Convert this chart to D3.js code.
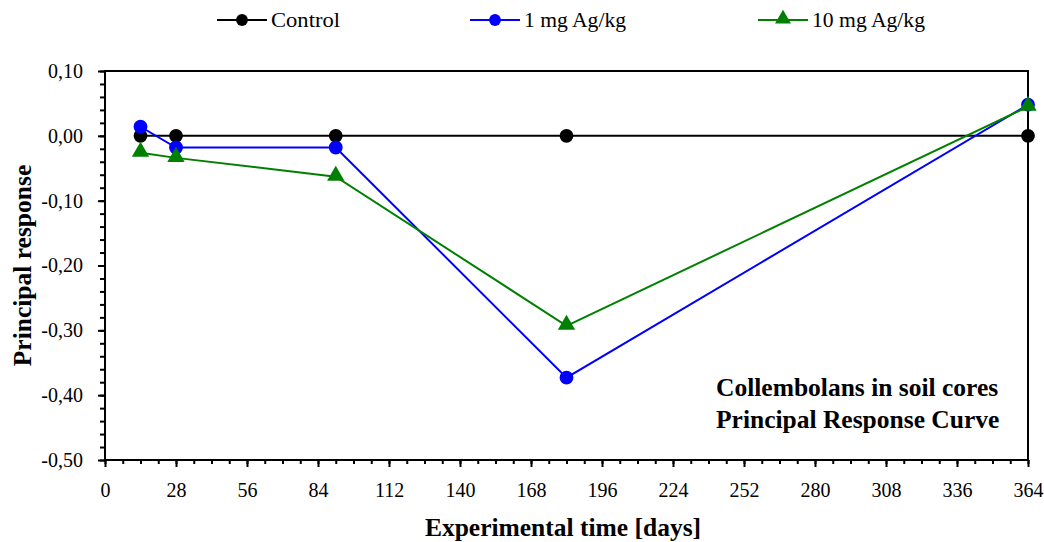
<!DOCTYPE html>
<html>
<head>
<meta charset="utf-8">
<script src="https://cdn.jsdelivr.net/npm/d3@7"></script>
<style>
  body { margin: 0; background: #fff; }
  svg text { font-family: "Liberation Serif", "Times New Roman", serif; fill: #000; }
</style>
</head>
<body>
<div></div>
<script>
const days = [14, 28, 91, 182, 364];
const control = [0, 0, 0, 0, 0];
const dose1 = [0.014, -0.018, -0.018, -0.373, 0.048];
const dose10 = [-0.026, -0.034, -0.063, -0.293, 0.045];
const xTicks = [0, 28, 56, 84, 112, 140, 168, 196, 224, 252, 280, 308, 336, 364];
const yTicks = [0.1, 0, -0.1, -0.2, -0.3, -0.4, -0.5];
const seriesNames = ['Control', '1 mg Ag/kg', '10 mg Ag/kg'];

const svgWidth = 1044, svgHeight = 542;
const plotLeft = 105, plotRight = 1028, plotTop = 71, plotBottom = 460;

const svg = d3.select('body').select('div')
  .append('svg')
  .attr('width', svgWidth)
  .attr('height', svgHeight);

const x = d3.scaleLinear().domain([0, 364]).range([plotLeft, plotRight]);
const y = d3.scaleLinear().domain([-0.5, 0.1]).range([plotBottom, plotTop]);

const fmt = d => d3.format('.2f')(d).replace('.', ',').replace('−', '-');

// minor ticks
svg.append('g')
  .attr('transform', `translate(0,${plotBottom})`)
  .call(d3.axisBottom(x).tickValues(d3.range(0, 365, 7)).tickSize(4).tickFormat(''))
  .call(g => g.select('.domain').remove())
  .selectAll('line').attr('stroke-width', 2);

svg.append('g')
  .attr('transform', `translate(${plotLeft},0)`)
  .call(d3.axisLeft(y).tickValues(d3.range(-0.5, 0.1001, 0.02)).tickSize(5).tickFormat(''))
  .call(g => g.select('.domain').remove())
  .selectAll('line').attr('stroke-width', 2);

// major axes
const xAxis = svg.append('g')
  .attr('transform', `translate(0,${plotBottom})`)
  .call(d3.axisBottom(x).tickValues(xTicks).tickSize(7).tickPadding(16));
xAxis.select('.domain').remove();
xAxis.selectAll('line').attr('stroke-width', 2);
xAxis.selectAll('text').style('font-size', '20px');

const yAxis = svg.append('g')
  .attr('transform', `translate(${plotLeft},0)`)
  .call(d3.axisLeft(y).tickValues(yTicks).tickSize(7).tickPadding(15).tickFormat(fmt));
yAxis.select('.domain').remove();
yAxis.selectAll('line').attr('stroke-width', 2);
yAxis.selectAll('text').style('font-size', '20px');

// frame
svg.append('rect')
  .attr('x', plotLeft).attr('y', plotTop)
  .attr('width', plotRight - plotLeft).attr('height', plotBottom - plotTop)
  .attr('fill', 'none').attr('stroke', '#000').attr('stroke-width', 2);

const series = [
  { name: seriesNames[0], values: control, color: '#000000', shape: 'circle' },
  { name: seriesNames[1], values: dose1, color: '#0000ff', shape: 'circle' },
  { name: seriesNames[2], values: dose10, color: '#008000', shape: 'triangle' }
];

const line = d3.line().x(d => x(d[0])).y(d => y(d[1]));
const circle = d3.symbol().type(d3.symbolCircle).size(150);
const tri = d3.symbol().type(d3.symbolTriangle).size(130);

series.forEach(s => {
  const pts = days.map((d, i) => [d, s.values[i]]);
  svg.append('path')
    .datum(pts)
    .attr('d', line)
    .attr('fill', 'none')
    .attr('stroke', s.color)
    .attr('stroke-width', 2);
  svg.selectAll(null)
    .data(pts)
    .enter()
    .append('path')
    .attr('d', s.shape === 'circle' ? circle : tri)
    .attr('transform', d => `translate(${x(d[0])},${y(d[1]) + (s.shape === 'circle' ? 0 : -1)})`)
    .attr('fill', s.color);
});

// legend
const legendX = [217, 470, 758];
series.forEach((s, i) => {
  const g = svg.append('g').attr('transform', `translate(${legendX[i]},20)`);
  g.append('line').attr('x1', 0).attr('x2', 50).attr('y1', 0).attr('y2', 0)
    .attr('stroke', s.color).attr('stroke-width', 2);
  g.append('path').attr('d', d3.symbol().type(s.shape === 'circle' ? d3.symbolCircle : d3.symbolTriangle).size(110))
    .attr('transform', `translate(25,${s.shape === 'circle' ? 0 : -1})`)
    .attr('fill', s.color);
  g.append('text').attr('x', 54).attr('y', 7)
    .style('font-size', '20px')
    .attr('textLength', [69, 102, 113][i])
    .attr('lengthAdjust', 'spacingAndGlyphs')
    .text(s.name);
});

// axis titles
svg.append('text')
  .attr('x', 563).attr('y', 536)
  .attr('text-anchor', 'middle')
  .style('font-size', '25.5px').style('font-weight', 'bold')
  .text('Experimental time [days]');

svg.append('text')
  .attr('transform', `translate(31,${(plotTop + plotBottom) / 2}) rotate(-90)`)
  .attr('text-anchor', 'middle')
  .style('font-size', '25.5px').style('font-weight', 'bold')
  .text('Principal response');

// annotation
svg.append('text').attr('x', 716).attr('y', 396)
  .style('font-size', '25.5px').style('font-weight', 'bold')
  .text('Collembolans in soil cores');
svg.append('text').attr('x', 716).attr('y', 428)
  .style('font-size', '25.5px').style('font-weight', 'bold')
  .text('Principal Response Curve');
</script>
</body>
</html>
